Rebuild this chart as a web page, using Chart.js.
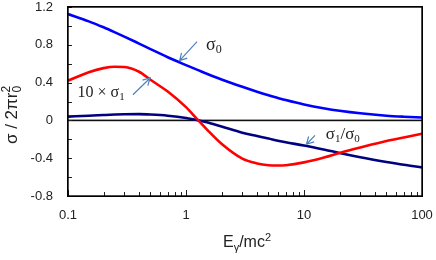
<!DOCTYPE html>
<html><head><meta charset="utf-8">
<script src="https://cdn.jsdelivr.net/npm/chart.js@4/dist/chart.umd.min.js"></script>
<style>html,body{margin:0;padding:0;background:#fff;}#wrap{width:436px;height:260px;position:relative;}#frame{position:absolute;box-sizing:border-box;border:1.5px solid #000;pointer-events:none;}</style>
</head><body><div id="wrap"><canvas id="c" width="436" height="260"></canvas><div id="frame"></div></div>
<script>
// ---- data ----
const energies  = [0.1, 0.15, 0.2, 0.25, 0.3, 0.4, 0.5, 0.7, 1, 1.25, 1.5, 2, 3, 4, 5, 6, 7, 10, 15, 20, 30, 50, 70, 100];
const sigma0    = [1.125, 1.048, 0.985, 0.932, 0.887, 0.813, 0.755, 0.668, 0.585, 0.535, 0.494, 0.433, 0.355, 0.303, 0.266, 0.238, 0.215, 0.168, 0.126, 0.102, 0.075, 0.050, 0.039, 0.030];
const tenSigma1 = [0.42, 0.51, 0.553, 0.568, 0.565, 0.515, 0.43, 0.305, 0.14, 0.01, -0.095, -0.248, -0.405, -0.455, -0.474, -0.477, -0.474, -0.444, -0.39, -0.345, -0.287, -0.218, -0.181, -0.141];
const ratio     = [0.040, 0.050, 0.057, 0.062, 0.065, 0.066, 0.062, 0.050, 0.026, 0.002, -0.02, -0.065, -0.13, -0.165, -0.192, -0.215, -0.232, -0.265, -0.31, -0.345, -0.39, -0.44, -0.47, -0.497];

const xTickValues = [0.1, 1, 10, 100];
const xTickLabels = ['0.1', '1', '10', '100'];
const xMinorTicks = [0.2,0.3,0.4,0.5,0.6,0.7,0.8,0.9, 2,3,4,5,6,7,8,9, 20,30,40,50,60,70,80,90];
const yTickValues = [1.2, 0.8, 0.4, 0, -0.4, -0.8];
const yTickLabels = ['1.2', '0.8', '0.4', '0', '-0.4', '-0.8'];
const yMinorTicks = [1.0, 0.6, 0.2, -0.2, -0.6];

// annotation anchors in data coordinates
const annotations = [
  {parts:[['σ',18,0],['0',12,3]], at:[1.48, 0.748], from:[1.24, 0.833], to:[0.883, 0.632]},
  {parts:[['10 × σ',16,0],['1',11,3]], at:[0.1205, 0.248], from:[0.355, 0.272], to:[0.497, 0.449]},
  {parts:[['σ',17,0],['1',11,3],['/σ',17,0],['0',11,3]], at:[15.3, -0.2], from:[12.4, -0.159], to:[10.5, -0.252]}
];

const SANS = '"Liberation Sans", Arial, sans-serif';
const SERIF = '"Liberation Serif", "Times New Roman", serif';

function drawParts(ctx, parts, x, y, family, color) {
  ctx.fillStyle = color;
  ctx.textBaseline = 'alphabetic';
  ctx.textAlign = 'left';
  let cx = x;
  for (const p of parts) {
    ctx.font = p[1] + 'px ' + family;
    ctx.fillText(p[0], cx, y + p[2]);
    if (!p[3]) cx += ctx.measureText(p[0]).width;
  }
  return cx - x;
}
function partsWidth(ctx, parts, family) {
  let w = 0;
  for (const p of parts) { ctx.font = p[1] + 'px ' + family; if (!p[3]) w += ctx.measureText(p[0]).width; }
  return w;
}

const deco = {
  id: 'deco',
  beforeDatasetsDraw(chart) {
    const ctx = chart.ctx, a = chart.chartArea, x = chart.scales.x, y = chart.scales.y;
    ctx.save();
    ctx.fillStyle = '#111';
    const y0 = y.getPixelForValue(0);
    ctx.fillRect(a.left, y0 - 0.8, a.right - a.left, 1.6);
    ctx.fillStyle = '#222';
    for (const v of xTickValues) { const px = Math.round(x.getPixelForValue(v)); ctx.fillRect(px, a.bottom - 6, 1, 6); }
    for (const v of xMinorTicks) { const px = Math.round(x.getPixelForValue(v)); ctx.fillRect(px, a.bottom - 4, 1, 4); }
    for (const v of yTickValues.concat(yMinorTicks)) { const py = Math.round(y.getPixelForValue(v)); ctx.fillRect(a.left, py, 4, 1); }
    ctx.restore();
  },
  afterDraw(chart) {
    const ctx = chart.ctx, a = chart.chartArea, x = chart.scales.x, y = chart.scales.y;
    ctx.save();
    ctx.strokeStyle = '#000000';
    ctx.lineWidth = 1.4;
    ctx.strokeRect(a.left, a.top, a.right - a.left, a.bottom - a.top);
    for (const an of annotations) {
      const fx = x.getPixelForValue(an.from[0]), fy = y.getPixelForValue(an.from[1]);
      const tx = x.getPixelForValue(an.to[0]), ty = y.getPixelForValue(an.to[1]);
      ctx.strokeStyle = '#4f81bd'; ctx.lineWidth = 1.2;
      ctx.beginPath(); ctx.moveTo(fx, fy); ctx.lineTo(tx, ty);
      const ang = Math.atan2(ty - fy, tx - fx), L = 8, w = 0.5;
      ctx.moveTo(tx - L * Math.cos(ang - w), ty - L * Math.sin(ang - w)); ctx.lineTo(tx, ty);
      ctx.lineTo(tx - L * Math.cos(ang + w), ty - L * Math.sin(ang + w));
      ctx.stroke();
      drawParts(ctx, an.parts, x.getPixelForValue(an.at[0]), y.getPixelForValue(an.at[1]), SERIF, '#222');
    }
    const xt = [['E',16,0],['γ',11,4],['/mc',16,0],['2',11,-6]];
    const xw = partsWidth(ctx, xt, SANS);
    drawParts(ctx, xt, (a.left + a.right) / 2 + 2 - xw / 2, 247, SANS, '#222');
    const yt = [['σ / 2πr',17,0],['0',12,4,true],['2',12,-7]];
    const yw = partsWidth(ctx, yt, SANS);
    ctx.translate(17, 115);
    ctx.rotate(-Math.PI / 2);
    drawParts(ctx, yt, -yw / 2, 0, SANS, '#222');
    ctx.restore();
    // html frame overlay aligned to the chart area
    const f = document.getElementById('frame');
    f.style.left = (a.left - 0.75) + 'px';
    f.style.top = (a.top - 0.75) + 'px';
    f.style.width = (a.right - a.left + 1.5) + 'px';
    f.style.height = (a.bottom - a.top + 1.5) + 'px';
  }
};

const pts = arr => energies.map((e, i) => ({x: e, y: arr[i]}));
const noPad = s => { s.paddingLeft = 0; s.paddingRight = 0; s.paddingTop = 0; s.paddingBottom = 0; };

new Chart(document.getElementById('c'), {
  type: 'line',
  data: {
    datasets: [
      {label: 'σ0', data: pts(sigma0), borderColor: '#0000ff', borderWidth: 2.6, pointRadius: 0, cubicInterpolationMode: 'monotone', fill: false},
      {label: '10×σ1', data: pts(tenSigma1), borderColor: '#ff0000', borderWidth: 2.6, pointRadius: 0, cubicInterpolationMode: 'monotone', fill: false},
      {label: 'σ1/σ0', data: pts(ratio), borderColor: '#000080', borderWidth: 2.6, pointRadius: 0, cubicInterpolationMode: 'monotone', fill: false}
    ]
  },
  options: {
    responsive: false, animation: false, devicePixelRatio: 1,
    layout: {padding: {left: 0, right: 14, top: 7, bottom: 0}},
    plugins: {legend: {display: false}, tooltip: {enabled: false}},
    scales: {
      x: {
        type: 'logarithmic', min: 0.1, max: 100,
        grid: {display: false, drawTicks: false}, border: {display: false},
        afterBuildTicks: s => { s.ticks = xTickValues.map(v => ({value: v})); },
        afterFit: s => { s.height = 64; noPad(s); },
        ticks: {autoSkip: false, maxRotation: 0, padding: 12, color: '#222',
          font: {family: SANS, size: 13},
          callback: (v, i) => xTickLabels[i]}
      },
      y: {
        type: 'linear', min: -0.8, max: 1.2,
        grid: {display: false, drawTicks: false}, border: {display: false},
        afterBuildTicks: s => { s.ticks = yTickValues.map(v => ({value: v})); },
        afterFit: s => { s.width = 68; noPad(s); },
        ticks: {autoSkip: false, padding: 15, color: '#222',
          font: {family: SANS, size: 13},
          callback: (v, i) => yTickLabels[i]}
      }
    }
  },
  plugins: [deco]
});
</script></body></html>
